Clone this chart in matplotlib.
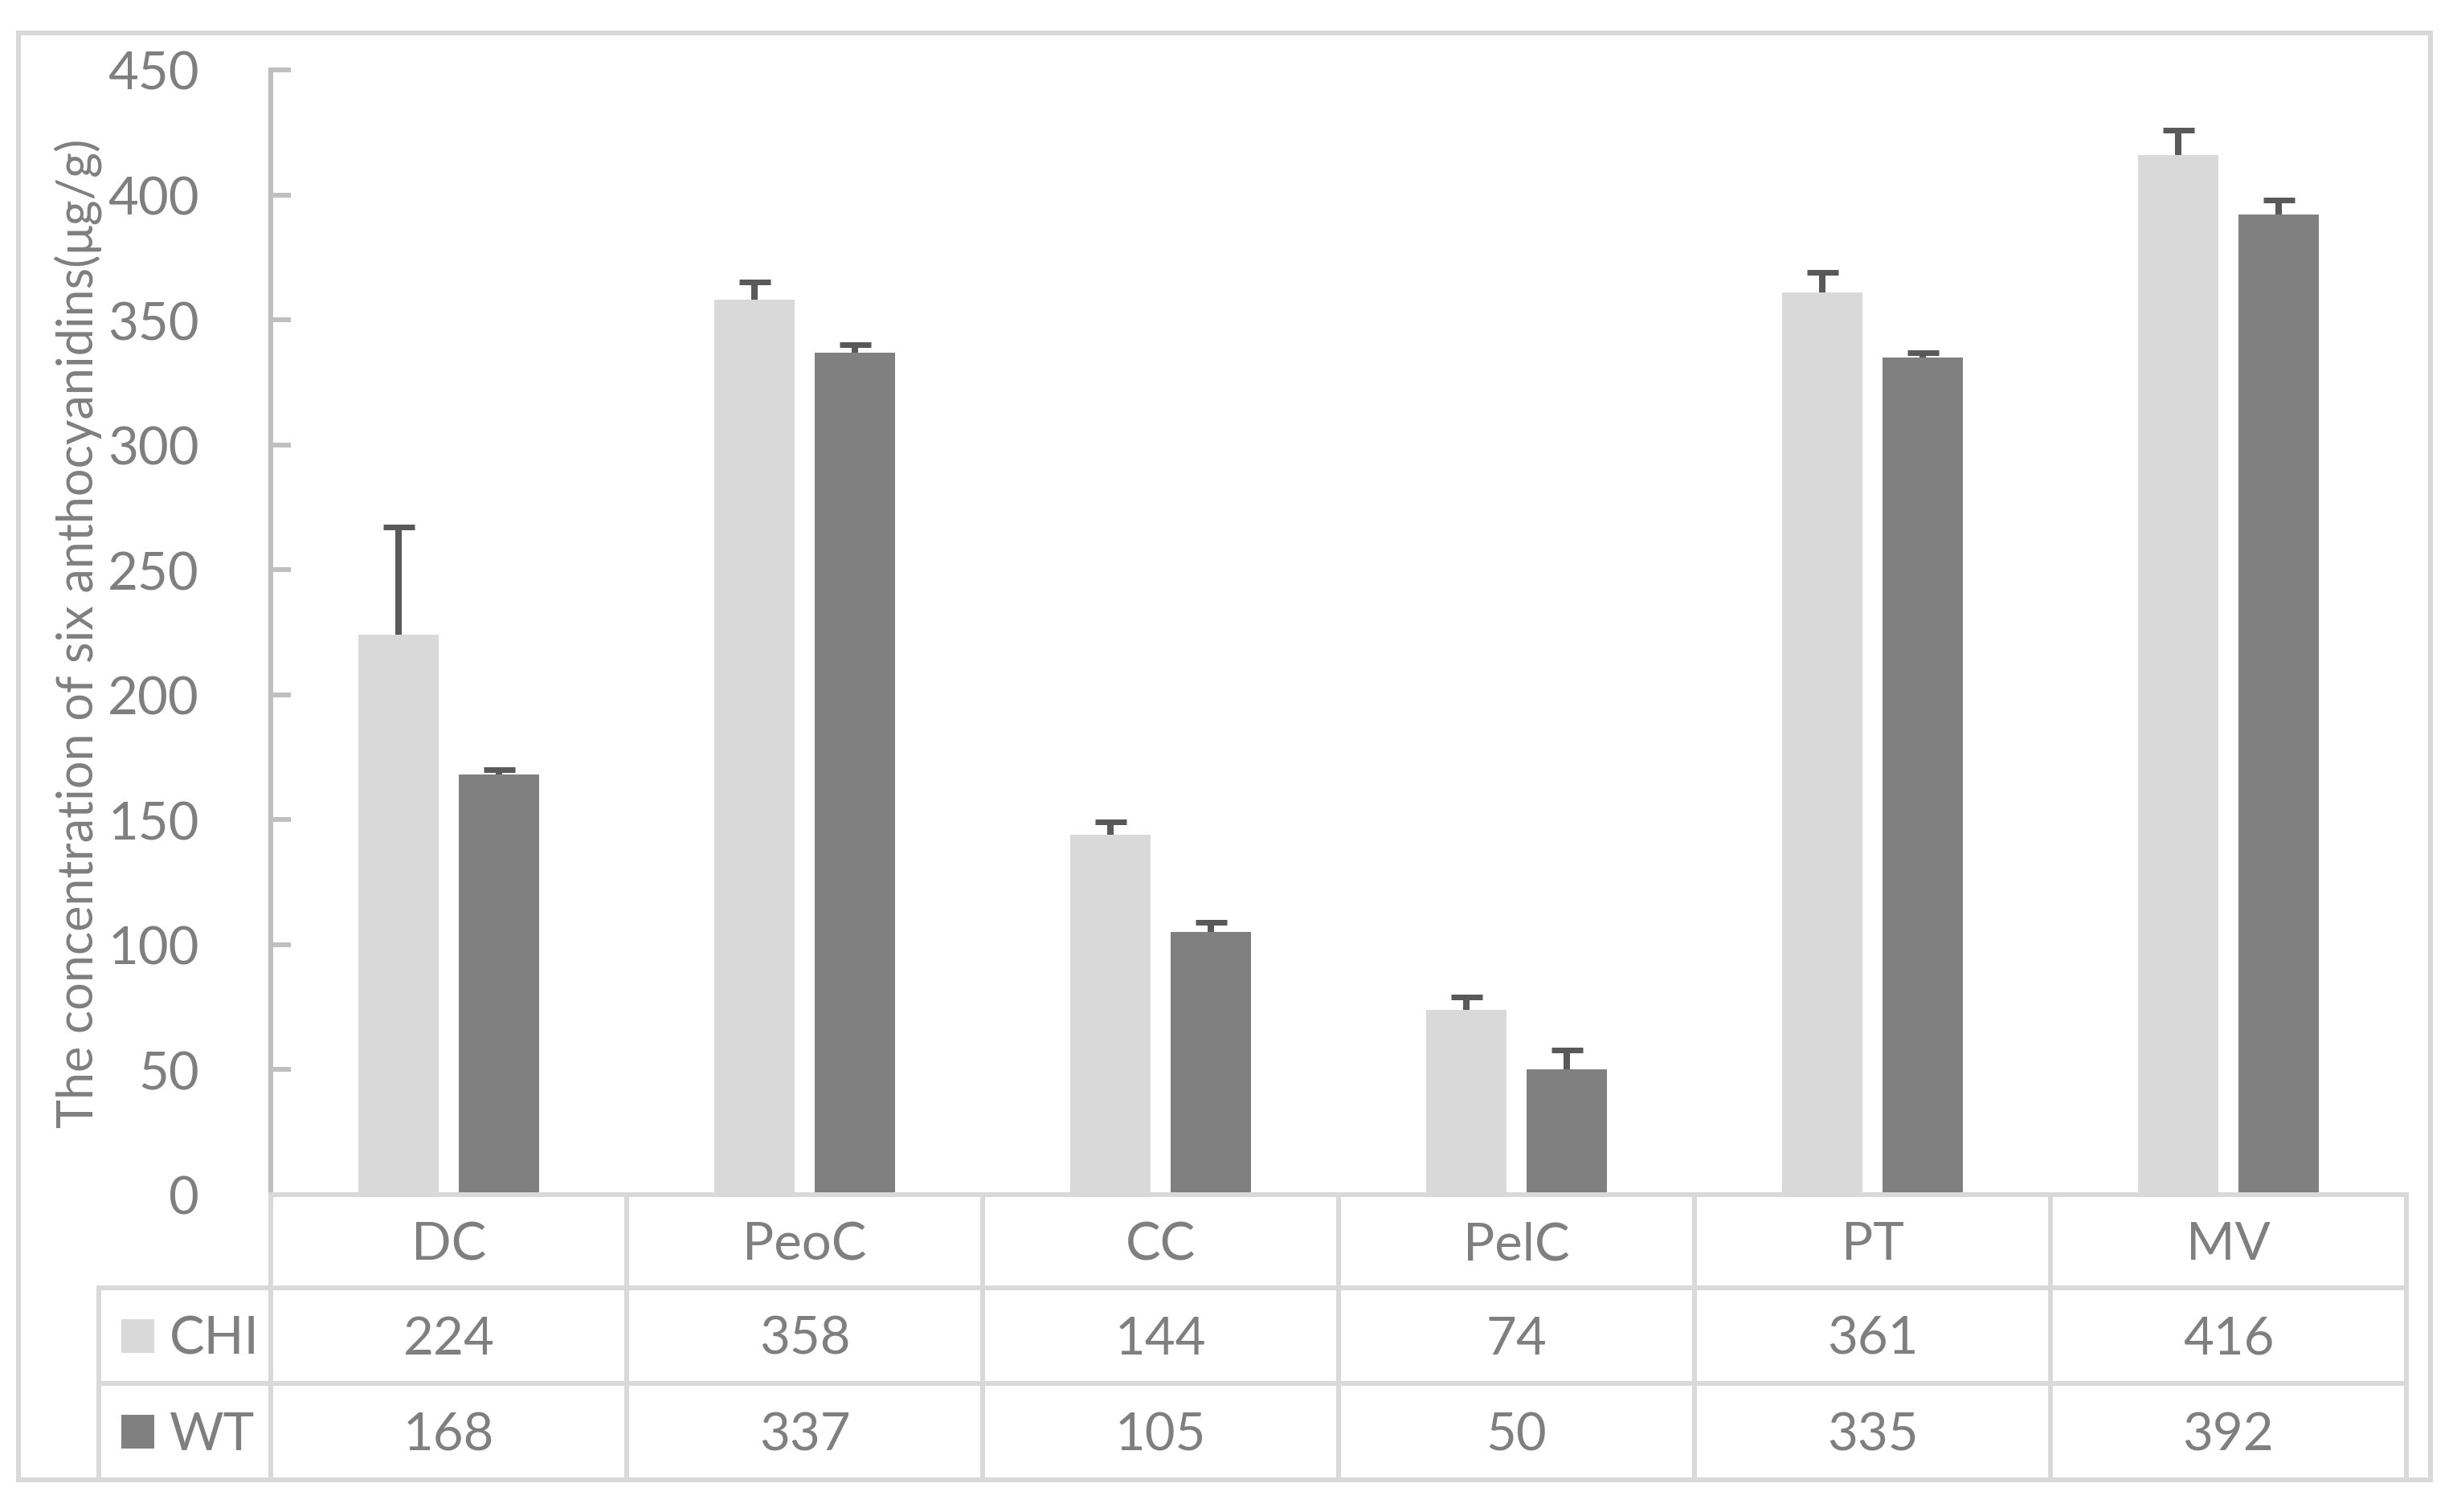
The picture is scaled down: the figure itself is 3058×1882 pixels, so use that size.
import matplotlib
matplotlib.use("Agg")
import matplotlib.pyplot as plt
import matplotlib.patches as mpatches
from matplotlib.lines import Line2D
from matplotlib.transforms import blended_transform_factory
import numpy as np

# ---------------- data ----------------
categories = ["DC", "PeoC", "CC", "PelC", "PT", "MV"]
series_names = ["CHI", "WT"]
chi_values = [224, 358, 144, 74, 361, 416]
wt_values = [168, 337, 105, 50, 335, 392]
chi_errors = [43, 7, 5, 5, 8, 10]
wt_errors = [2, 3, 4, 8, 2, 6]
y_ticks = [0, 50, 100, 150, 200, 250, 300, 350, 400, 450]
y_label = "The concentration of six anthocyanidins(\u03bcg/g)"

# ---------------- style ----------------
W, H, DPI = 3058, 1883, 100
PX = 72.0 / DPI  # points per pixel
col_chi = "#D9D9D9"
col_wt = "#808080"
col_err = "#595959"
col_txt = "#7F7F7F"
col_grid = "#D9D9D9"
col_axis = "#BFBFBF"
FONT = "Lato"
fs_tick = 47
fs_label = 44

plt.rcParams["font.family"] = [FONT, "DejaVu Sans"]

fig = plt.figure(figsize=(W / DPI, H / DPI), dpi=DPI)
ax_l, ax_r, ax_t, ax_b = 337, 2995, 88, 1488
ax = fig.add_axes([ax_l / W, 1 - ax_b / H, (ax_r - ax_l) / W, (ax_b - ax_t) / H])

x = np.arange(len(categories))
bw = 0.226
off = 0.141
ax.bar(x - off, chi_values, width=bw, color=col_chi, zorder=2)
ax.bar(x + off, wt_values, width=bw, color=col_wt, zorder=2)

# upper-only error bars
for xs, vals, errs in [(x - off, chi_values, chi_errors), (x + off, wt_values, wt_errors)]:
    vals = np.array(vals, float)
    tops = vals + np.array(errs, float)
    ax.vlines(xs, vals, tops, colors=col_err, linewidth=8 * PX, zorder=3)
    ax.plot(xs, tops, ls="none", marker="_", markersize=39 * PX,
            markeredgewidth=7 * PX, color=col_err, zorder=3)

ax.set_xlim(-0.5, len(categories) - 0.5)
ax.set_ylim(0, 450)
ax.set_yticks(y_ticks)
ax.set_yticklabels([str(t) for t in y_ticks])
ax.set_xticks([])
for s in ["top", "right"]:
    ax.spines[s].set_visible(False)
ax.spines["left"].set_color(col_axis)
ax.spines["left"].set_linewidth(6 * PX)
ax.spines["bottom"].set_color(col_grid)
ax.spines["bottom"].set_linewidth(6 * PX)
ax.tick_params(axis="y", direction="in", length=25 * PX, width=6 * PX,
               color=col_axis, labelcolor=col_txt, labelsize=fs_tick, pad=89 * PX)

# y label
ax.text((97 - ax_l) / (ax_r - ax_l), 0.5, y_label, transform=ax.transAxes,
        rotation=90, ha="center", va="center", rotation_mode="anchor",
        fontsize=fs_label, color=col_txt)

# ---------------- data table ----------------
def fy(py):
    return (ax_b - py) / (ax_b - ax_t)

def fx(px):
    return (px - ax_l) / (ax_r - ax_l)

row_edges = [1488, 1604, 1723, 1843]
leg_left = 123
lw_t = 6 * PX
tA = ax.transAxes
tB = blended_transform_factory(ax.transData, ax.transAxes)

# horizontal lines
ax.add_line(Line2D([0, 1], [fy(row_edges[0])] * 2, transform=tA, color=col_grid,
                   lw=lw_t, clip_on=False, solid_capstyle="projecting"))
for r in row_edges[1:3]:
    ax.add_line(Line2D([fx(leg_left), 1], [fy(r)] * 2, transform=tA, color=col_grid,
                       lw=lw_t, clip_on=False, solid_capstyle="projecting"))
# vertical lines
for i in range(len(categories) + 1):
    ax.add_line(Line2D([i / len(categories)] * 2, [fy(row_edges[0]), fy(row_edges[3])],
                       transform=tA, color=col_grid, lw=lw_t, clip_on=False))
ax.add_line(Line2D([fx(leg_left)] * 2, [fy(row_edges[1]), fy(row_edges[3])],
                   transform=tA, color=col_grid, lw=lw_t, clip_on=False))

txt_shift = 4  # px
row_c = [fy((row_edges[k] + row_edges[k + 1]) / 2 + txt_shift) for k in range(3)]
for i, c in enumerate(categories):
    ax.text(i, row_c[0], c, transform=tB, ha="center", va="center",
            fontsize=fs_tick, color=col_txt, clip_on=False)
    ax.text(i, row_c[1], str(chi_values[i]), transform=tB, ha="center", va="center",
            fontsize=fs_tick, color=col_txt, clip_on=False)
    ax.text(i, row_c[2], str(wt_values[i]), transform=tB, ha="center", va="center",
            fontsize=fs_tick, color=col_txt, clip_on=False)

# legend keys
for k, (name, colr) in enumerate(zip(series_names, [col_chi, col_wt])):
    yc = fy((row_edges[k + 1] + row_edges[k + 2]) / 2)
    sq_h = 42 / (ax_b - ax_t)
    ax.add_patch(mpatches.Rectangle((fx(151), yc - sq_h / 2), fx(192) - fx(151), sq_h,
                                    transform=tA, facecolor=colr, edgecolor="none",
                                    clip_on=False))
    ax.text(fx(211), row_c[k + 1], name, transform=tA, ha="left", va="center",
            fontsize=fs_tick, color=col_txt, clip_on=False)

# outer border
fig.patches.append(mpatches.Rectangle((23 / W, 1 - 1843 / H), (3025 - 23) / W, (1843 - 42) / H,
                                      transform=fig.transFigure, fill=False,
                                      edgecolor=col_grid, lw=6 * PX))

fig.savefig("out.png", dpi=DPI, facecolor="white")
